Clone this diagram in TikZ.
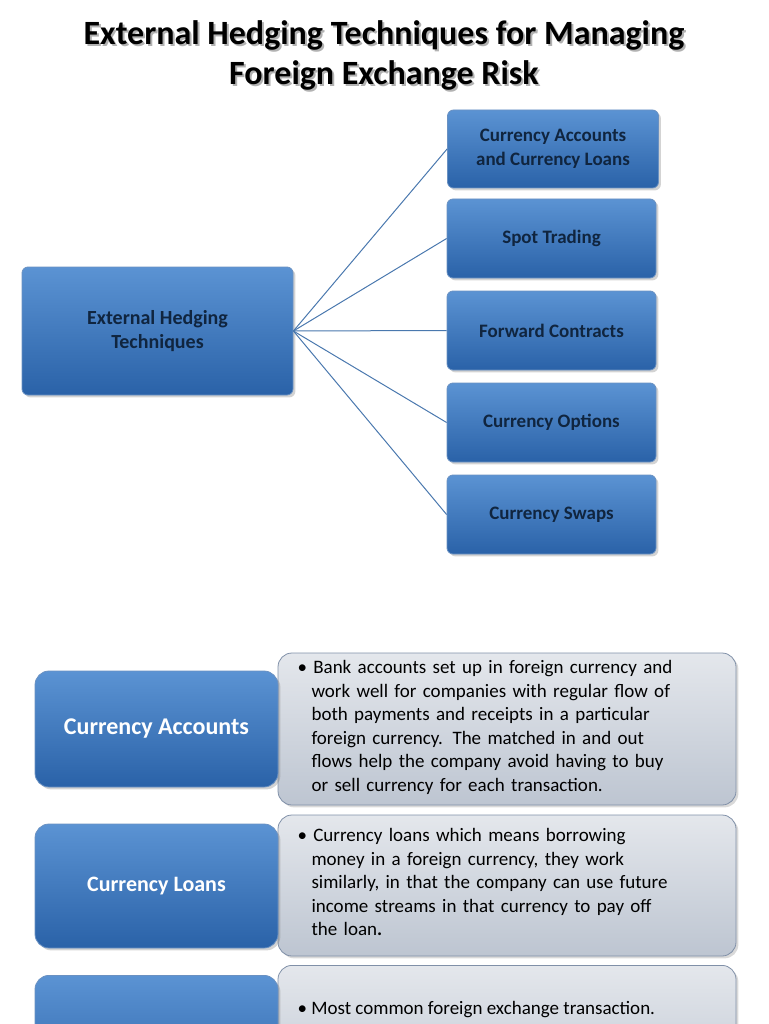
\documentclass[tikz,border=0pt]{standalone}
\usepackage{fontspec}
\setmainfont{Carlito}
\usetikzlibrary{positioning,shadows}
\definecolor{bluetop}{HTML}{5B93D3}
\definecolor{bluebot}{HTML}{2A62A8}
\definecolor{blueline}{HTML}{4A78AE}
\definecolor{navytext}{HTML}{10253F}
\definecolor{graytop}{HTML}{E4E7EC}
\definecolor{graybot}{HTML}{BDC5D1}
\definecolor{grayline}{HTML}{8090A8}
\tikzset{
  bluebox/.style={rounded corners=6pt, draw=bluebot!70!white, line width=0.8pt,
    top color=bluetop, bottom color=bluebot, text=white, font=\bfseries,
    align=center, drop shadow={opacity=0.35}},
  treebox/.style={bluebox, text=navytext, font=\fontsize{19}{24}\selectfont\bfseries},
  graybox/.style={rounded corners=14pt, draw=grayline, line width=0.8pt,
    top color=graytop, bottom color=graybot, drop shadow={opacity=0.3}},
  link/.style={blueline, line width=1pt}
}
\begin{document}
\begin{tikzpicture}[x=1pt,y=-1pt]
  \useasboundingbox (0,0) rectangle (768,1024);
  %----------------------------------------------------
  % Title
  %----------------------------------------------------
  \node (titleshadow) at (386,57) [align=center, text=black!30, font=\fontsize{34}{40}\selectfont\bfseries] {External Hedging Techniques for Managing\\Foreign Exchange Risk};
  \node (title) at (384,55) [align=center, font=\fontsize{34}{40}\selectfont\bfseries] {External Hedging Techniques for Managing\\Foreign Exchange Risk};
  %----------------------------------------------------
  % Tree of techniques
  %----------------------------------------------------
  \node (root) [treebox, minimum width=271pt, minimum height=128pt, font=\fontsize{20}{24}\selectfont\bfseries] at (157.5,331) {External Hedging\\Techniques};
  \node (acc) [treebox, minimum width=211pt, minimum height=78pt] at (553,149) {Currency Accounts\\and Currency Loans};
  \node (spot) [treebox, minimum width=209pt, minimum height=79pt] at (551.5,238.5) {Spot Trading};
  \node (fwd) [treebox, minimum width=209pt, minimum height=79pt] at (551.5,330.5) {Forward Contracts};
  \node (opt) [treebox, minimum width=209pt, minimum height=79pt] at (551.5,422.5) {Currency Options};
  \node (swp) [treebox, minimum width=209pt, minimum height=79pt] at (551.5,514.5) {Currency Swaps};
  \foreach \n in {acc,spot,fwd,opt,swp}
    \draw [link] (root.east) -- (\n.west);
  %----------------------------------------------------
  % Detail rows
  %----------------------------------------------------
  \node (accdesc) [graybox, minimum width=458pt, minimum height=152pt] at (507,729) {};
  \node (acctext) [anchor=north west, text width=420pt, font=\fontsize{19}{23.5}\selectfont] at (294,657)
    {\textbullet\ Bank accounts set up in foreign currency and\\
     \hspace*{14pt}work well for companies with regular flow of\\
     \hspace*{14pt}both payments and receipts in a particular\\
     \hspace*{14pt}foreign currency. The matched in and out\\
     \hspace*{14pt}flows help the company avoid having to buy\\
     \hspace*{14pt}or sell currency for each transaction.};
  \node (acchead) [bluebox, minimum width=243pt, minimum height=116pt, rounded corners=14pt, font=\fontsize{24}{28}\selectfont\bfseries] at (156.5,729) {Currency Accounts};

  \node (loandesc) [graybox, minimum width=458pt, minimum height=141pt] at (507,885.5) {};
  \node (loantext) [anchor=north west, text width=420pt, font=\fontsize{19}{23.5}\selectfont] at (294,825)
    {\textbullet\ Currency loans which means borrowing\\
     \hspace*{14pt}money in a foreign currency, they work\\
     \hspace*{14pt}similarly, in that the company can use future\\
     \hspace*{14pt}income streams in that currency to pay off\\
     \hspace*{14pt}the loan\textbf{.}};
  \node (loanhead) [bluebox, minimum width=243pt, minimum height=124pt, rounded corners=14pt, font=\fontsize{22}{26}\selectfont\bfseries] at (156.5,886) {Currency Loans};

  \node (spotdesc) [graybox, minimum width=458pt, minimum height=141pt, anchor=north] at (507,965) {};
  \node (spottext) [anchor=north west, font=\fontsize{19}{23.5}\selectfont] at (294,998)
    {\textbullet\ Most common foreign exchange transaction.};
  \node (spothead) [bluebox, minimum width=243pt, minimum height=124pt, rounded corners=14pt, anchor=north] at (156.5,975) {};
\end{tikzpicture}
\end{document}
